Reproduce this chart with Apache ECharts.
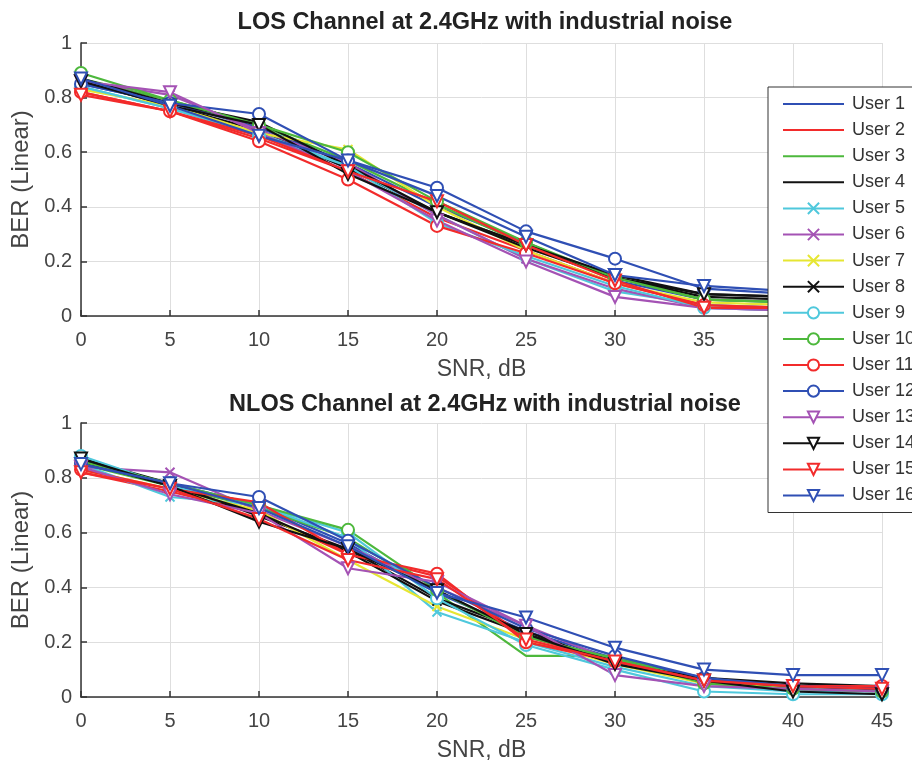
<!DOCTYPE html>
<html>
<head>
<meta charset="utf-8">
<script src="https://cdn.jsdelivr.net/npm/echarts@6/dist/echarts.min.js"></script>
<style>
  html, body { margin: 0; padding: 0; background: #fff; }
  #main { width: 912px; height: 762px; }
</style>
</head>
<body>
<div id="main"></div>
<script>
// SNR points (dB)
const snr = [0, 5, 10, 15, 20, 25, 30, 35, 40, 45];
const userNames = ['User 1', 'User 2', 'User 3', 'User 4', 'User 5', 'User 6', 'User 7', 'User 8',
  'User 9', 'User 10', 'User 11', 'User 12', 'User 13', 'User 14', 'User 15', 'User 16'];

// BER per user, LOS channel
const losBer = [
  [0.85, 0.78, 0.69, 0.56, 0.40, 0.27, 0.13, 0.06, 0.05, 0.05],
  [0.82, 0.75, 0.65, 0.53, 0.36, 0.24, 0.12, 0.04, 0.03, 0.03],
  [0.87, 0.79, 0.70, 0.57, 0.41, 0.26, 0.14, 0.06, 0.05, 0.04],
  [0.86, 0.77, 0.68, 0.54, 0.38, 0.26, 0.14, 0.08, 0.07, 0.07],
  [0.84, 0.76, 0.67, 0.55, 0.37, 0.21, 0.09, 0.04, 0.03, 0.02],
  [0.86, 0.81, 0.68, 0.56, 0.37, 0.21, 0.10, 0.03, 0.02, 0.02],
  [0.83, 0.77, 0.67, 0.61, 0.40, 0.24, 0.12, 0.05, 0.04, 0.04],
  [0.87, 0.78, 0.71, 0.55, 0.38, 0.25, 0.14, 0.07, 0.06, 0.06],
  [0.84, 0.76, 0.66, 0.55, 0.34, 0.22, 0.11, 0.03, 0.02, 0.02],
  [0.89, 0.79, 0.70, 0.60, 0.42, 0.27, 0.14, 0.06, 0.05, 0.04],
  [0.82, 0.75, 0.64, 0.50, 0.33, 0.23, 0.12, 0.04, 0.03, 0.03],
  [0.85, 0.78, 0.74, 0.57, 0.47, 0.31, 0.21, 0.10, 0.08, 0.07],
  [0.86, 0.82, 0.67, 0.53, 0.35, 0.20, 0.07, 0.03, 0.02, 0.02],
  [0.86, 0.77, 0.70, 0.52, 0.38, 0.26, 0.15, 0.08, 0.07, 0.06],
  [0.81, 0.75, 0.66, 0.53, 0.42, 0.26, 0.13, 0.03, 0.03, 0.03],
  [0.87, 0.77, 0.66, 0.57, 0.44, 0.29, 0.15, 0.11, 0.09, 0.08]
];

// BER per user, NLOS channel
const nlosBer = [
  [0.86, 0.78, 0.70, 0.56, 0.38, 0.24, 0.14, 0.07, 0.04, 0.03],
  [0.82, 0.75, 0.67, 0.52, 0.44, 0.22, 0.13, 0.06, 0.04, 0.03],
  [0.85, 0.77, 0.69, 0.58, 0.38, 0.15, 0.15, 0.05, 0.03, 0.02],
  [0.87, 0.78, 0.66, 0.54, 0.36, 0.24, 0.12, 0.07, 0.05, 0.04],
  [0.85, 0.73, 0.70, 0.58, 0.31, 0.20, 0.11, 0.04, 0.02, 0.02],
  [0.84, 0.82, 0.68, 0.55, 0.40, 0.26, 0.13, 0.05, 0.03, 0.02],
  [0.83, 0.76, 0.68, 0.50, 0.33, 0.21, 0.12, 0.05, 0.04, 0.04],
  [0.86, 0.77, 0.67, 0.53, 0.35, 0.23, 0.13, 0.06, 0.04, 0.03],
  [0.88, 0.77, 0.70, 0.60, 0.36, 0.19, 0.10, 0.02, 0.01, 0.01],
  [0.86, 0.78, 0.70, 0.61, 0.39, 0.22, 0.14, 0.05, 0.03, 0.02],
  [0.83, 0.76, 0.71, 0.52, 0.45, 0.20, 0.13, 0.06, 0.04, 0.04],
  [0.85, 0.78, 0.73, 0.57, 0.40, 0.25, 0.15, 0.07, 0.04, 0.03],
  [0.84, 0.74, 0.67, 0.47, 0.42, 0.26, 0.08, 0.04, 0.03, 0.02],
  [0.87, 0.77, 0.64, 0.54, 0.39, 0.23, 0.12, 0.06, 0.02, 0.01],
  [0.82, 0.76, 0.65, 0.50, 0.43, 0.21, 0.13, 0.06, 0.04, 0.03],
  [0.85, 0.78, 0.69, 0.55, 0.38, 0.29, 0.18, 0.10, 0.08, 0.08]
];

const blue = '#2f4fb4', red = '#f22b2b', green = '#4db83c', black = '#111111';
const cyan = '#4fc8dc', magenta = '#a452b4', yellow = '#e6e632';
const userColors = [
  blue, red, green, black,
  cyan, magenta, yellow, black,
  cyan, green, red, blue,
  magenta, black, red, blue
];
const crossPath = 'path://M0,0L10,10M10,0L0,10';

function markerFor(i) {
  if (i < 4) return { symbol: 'none', symbolSize: 0, rotate: 0 };
  if (i < 8) return { symbol: crossPath, symbolSize: 9, rotate: 0 };
  if (i < 12) return { symbol: 'emptyCircle', symbolSize: 12, rotate: 0 };
  return { symbol: 'emptyTriangle', symbolSize: 12, rotate: 180 };
}

function buildSeries(rows, gridIdx) {
  return rows.map((row, i) => {
    const m = markerFor(i);
    const c = userColors[i];
    const itemStyle = m.symbol === crossPath
      ? { color: c, borderColor: c, borderWidth: 2 }
      : { color: c, borderWidth: 2 };
    return {
      name: userNames[i],
      type: 'line',
      xAxisIndex: gridIdx,
      yAxisIndex: gridIdx,
      data: snr.map((x, k) => [x, row[k]]),
      symbol: m.symbol,
      symbolSize: m.symbolSize,
      symbolRotate: m.rotate,
      showSymbol: m.symbol !== 'none',
      color: c,
      lineStyle: { width: 2.2, color: c },
      itemStyle: itemStyle,
      emphasis: { disabled: true },
      animation: false
    };
  });
}

const axisText = { color: '#444', fontSize: 20, fontFamily: 'Liberation Sans' };

function xAxisFor(gridIdx) {
  return {
    gridIndex: gridIdx, type: 'value', min: 0, max: 45, interval: 5,
    name: 'SNR, dB', nameLocation: 'middle', nameGap: 42,
    nameTextStyle: { color: '#444', fontSize: 23, fontFamily: 'Liberation Sans' },
    axisLine: { lineStyle: { color: '#333', width: 1.5 } },
    axisTick: { inside: true, length: 6, lineStyle: { color: '#333', width: 1.5 } },
    axisLabel: Object.assign({ margin: 14 }, axisText),
    splitLine: { show: true, lineStyle: { color: '#dedede', width: 1 } }
  };
}

function yAxisFor(gridIdx) {
  return {
    gridIndex: gridIdx, type: 'value', min: 0, max: 1, interval: 0.2,
    name: 'BER (Linear)', nameLocation: 'middle', nameGap: 44,
    nameTextStyle: { color: '#444', fontSize: 24, fontFamily: 'Liberation Sans' },
    axisLine: { show: true, lineStyle: { color: '#333', width: 1.5 } },
    axisTick: { show: true, inside: true, length: 6, lineStyle: { color: '#333', width: 1.5 } },
    axisLabel: Object.assign({ margin: 9, formatter: v => String(+v.toFixed(1)) }, axisText),
    splitLine: { show: true, lineStyle: { color: '#dedede', width: 1 } }
  };
}

// plain-line users show no marker in the legend
const legendData = userNames.map((n, i) => (i < 4 ? { name: n, itemStyle: { opacity: 0 } } : { name: n }));

const chart = echarts.init(document.getElementById('main'));
chart.setOption({
  backgroundColor: '#fff',
  animation: false,
  title: [
    { text: 'LOS Channel at 2.4GHz with industrial noise', left: 480, top: 6, textAlign: 'center',
      textStyle: { fontSize: 23.5, fontWeight: 'bold', color: '#222', fontFamily: 'Liberation Sans' } },
    { text: 'NLOS Channel at 2.4GHz with industrial noise', left: 480, top: 388, textAlign: 'center',
      textStyle: { fontSize: 23.5, fontWeight: 'bold', color: '#222', fontFamily: 'Liberation Sans' } }
  ],
  legend: {
    data: legendData,
    orient: 'vertical',
    left: 768, top: 87,
    padding: [8, 8, 8, 14],
    itemWidth: 61, itemHeight: 14, itemGap: 8.1,
    backgroundColor: '#fff',
    borderColor: '#333', borderWidth: 1,
    textStyle: { color: '#333', fontSize: 18, fontFamily: 'Liberation Sans', padding: [0, 0, 0, 3] },
    selectedMode: false
  },
  grid: [
    { left: 81, right: 30, top: 43, height: 273, outerBoundsMode: 'none' },
    { left: 81, right: 30, top: 423, height: 274, outerBoundsMode: 'none' }
  ],
  xAxis: [xAxisFor(0), xAxisFor(1)],
  yAxis: [yAxisFor(0), yAxisFor(1)],
  series: buildSeries(losBer, 0).concat(buildSeries(nlosBer, 1))
});
</script>
</body>
</html>
